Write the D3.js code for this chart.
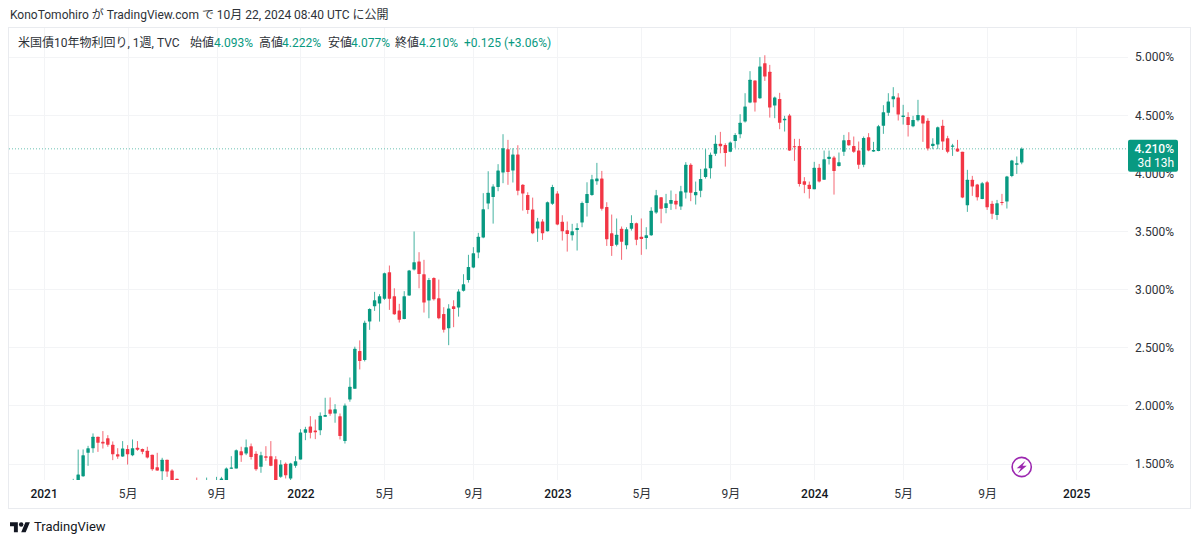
<!DOCTYPE html>
<html lang="ja">
<head>
<meta charset="utf-8">
<title>米国債10年物利回り</title>
<script src="https://cdn.jsdelivr.net/npm/d3@7"></script>
<style>
  html, body { margin: 0; padding: 0; background: #fff; }
  svg { display: block; }
  text { font-family: Roboto, "Noto Sans CJK JP", sans-serif; }
</style>
</head>
<body>
<svg id="chart" width="1200" height="544"></svg>
<script>
// Weekly candles of the US 10-year yield, one value per week from the first date.
const firstWeek = "2021-02-15";
const opens = [
  1.30,1.34,1.391,1.592,1.632,1.73,1.687,1.718,1.661,1.58,
  1.56,1.624,1.572,1.635,1.624,1.609,1.575,1.468,1.434,1.532,
  1.44,1.368,1.30,1.25,1.30,1.30,1.28,1.26,1.31,1.30,
  1.33,1.34,1.454,1.457,1.606,1.586,1.649,1.583,1.471,1.563,
  1.563,1.537,1.385,1.497,1.371,1.48,1.534,1.764,1.819,1.784,
  1.787,1.902,1.966,1.931,1.908,1.693,2.052,2.144,2.468,2.391,
  2.722,2.854,2.877,2.918,3.147,2.941,2.817,2.745,2.946,3.17,
  3.239,3.13,2.903,3.098,2.923,2.788,2.665,2.854,2.843,2.987,
  3.081,3.187,3.317,3.446,3.739,3.796,3.882,4.006,4.207,4.023,
  4.161,3.9,3.813,3.687,3.523,3.584,3.5,3.736,3.825,3.581,
  3.509,3.466,3.512,3.575,3.744,3.813,3.931,3.954,3.71,3.483,
  3.383,3.521,3.38,3.521,3.569,3.452,3.443,3.466,3.661,3.793,
  3.701,3.736,3.762,3.713,3.833,4.072,3.81,3.848,3.968,4.043,
  4.167,4.253,4.244,4.184,4.278,4.336,4.445,4.609,4.798,4.646,
  4.947,4.873,4.583,4.64,4.456,4.497,4.233,4.235,3.931,3.9,
  3.862,4.046,3.943,4.123,4.135,4.063,4.184,4.287,4.235,4.195,
  4.072,4.31,4.187,4.192,4.408,4.52,4.637,4.652,4.485,4.485,
  4.405,4.456,4.497,4.451,4.235,4.247,4.408,4.301,4.23,4.212,
  4.184,3.724,3.943,3.902,3.779,3.922,3.736,3.641,3.753,3.756,
  3.977,4.072,4.093
];
const highs = [
  1.368,1.62,1.621,1.652,1.759,1.73,1.779,1.744,1.69,1.632,
  1.693,1.658,1.707,1.693,1.629,1.644,1.575,1.592,1.549,1.532,
  1.451,1.368,1.34,1.33,1.34,1.379,1.35,1.379,1.35,1.385,
  1.385,1.466,1.563,1.621,1.644,1.707,1.672,1.606,1.601,1.649,
  1.693,1.563,1.529,1.509,1.506,1.563,1.796,1.816,1.908,1.879,
  1.94,2.066,2.069,2.011,1.931,2.017,2.241,2.506,2.56,2.73,
  2.837,2.978,2.958,3.144,3.205,3.009,2.875,2.984,3.167,3.498,
  3.32,3.254,3.098,3.104,3.084,2.846,2.872,2.906,3.001,3.13,
  3.297,3.363,3.486,3.828,4.017,3.905,4.078,4.336,4.287,4.215,
  4.241,3.905,3.836,3.79,3.615,3.604,3.756,3.9,3.845,3.638,
  3.584,3.564,3.569,3.756,3.922,3.986,4.089,4.02,3.75,3.644,
  3.61,3.541,3.535,3.638,3.575,3.61,3.535,3.707,3.856,3.793,
  3.822,3.851,3.822,3.891,4.095,4.086,3.928,4.037,4.207,4.178,
  4.327,4.356,4.258,4.273,4.345,4.508,4.689,4.879,4.798,4.999,
  5.016,4.933,4.66,4.692,4.494,4.511,4.296,4.296,3.966,3.928,
  4.098,4.08,4.195,4.195,4.149,4.178,4.33,4.353,4.316,4.273,
  4.316,4.345,4.27,4.416,4.586,4.689,4.741,4.689,4.589,4.525,
  4.494,4.632,4.502,4.474,4.301,4.402,4.46,4.322,4.253,4.287,
  4.184,4.029,3.977,3.908,3.925,3.934,3.762,3.77,3.822,3.977,
  4.115,4.144,4.222
];
const lows = [
  1.28,1.33,1.385,1.48,1.592,1.60,1.629,1.644,1.529,1.54,
  1.557,1.491,1.563,1.609,1.58,1.543,1.437,1.437,1.34,1.385,
  1.33,1.28,1.24,1.19,1.22,1.26,1.25,1.25,1.27,1.28,
  1.30,1.32,1.454,1.457,1.514,1.572,1.534,1.437,1.42,1.523,
  1.477,1.33,1.376,1.371,1.356,1.463,1.534,1.701,1.716,1.71,
  1.744,1.902,1.911,1.851,1.707,1.672,2.032,2.144,2.31,2.379,
  2.651,2.814,2.722,2.909,2.823,2.78,2.714,2.742,2.943,3.162,
  3.009,2.8,2.751,2.903,2.742,2.628,2.519,2.674,2.765,2.981,
  3.058,3.182,3.268,3.44,3.69,3.566,3.845,3.914,3.9,3.92,
  3.81,3.678,3.65,3.475,3.409,3.426,3.498,3.727,3.552,3.42,
  3.325,3.42,3.334,3.535,3.627,3.805,3.9,3.678,3.374,3.288,
  3.37,3.254,3.345,3.506,3.38,3.297,3.345,3.46,3.65,3.569,
  3.655,3.684,3.69,3.684,3.782,3.759,3.73,3.793,3.954,3.954,
  4.149,4.172,4.057,4.181,4.218,4.301,4.436,4.603,4.531,4.64,
  4.795,4.479,4.474,4.379,4.359,4.192,4.106,3.885,3.828,3.782,
  3.862,3.92,3.943,4.075,3.816,4.057,4.149,4.235,4.175,4.037,
  4.052,4.189,4.184,4.189,4.339,4.494,4.568,4.454,4.419,4.316,
  4.396,4.445,4.27,4.195,4.207,4.207,4.2,4.172,4.149,4.184,
  3.785,3.667,3.805,3.765,3.776,3.684,3.604,3.598,3.724,3.696,
  3.966,3.994,4.077
];
const closes = [
  1.34,1.405,1.572,1.632,1.73,1.678,1.672,1.661,1.58,1.56,
  1.629,1.58,1.632,1.618,1.601,1.552,1.451,1.44,1.532,1.431,
  1.34,1.30,1.28,1.30,1.27,1.28,1.31,1.30,1.29,1.33,
  1.371,1.457,1.466,1.615,1.572,1.641,1.557,1.451,1.572,1.549,
  1.48,1.34,1.491,1.399,1.5,1.52,1.767,1.796,1.764,1.77,
  1.911,1.917,1.928,1.968,1.736,2.0,2.161,2.489,2.382,2.713,
  2.83,2.906,2.94,3.139,2.918,2.786,2.737,2.941,3.162,3.233,
  3.133,2.886,3.081,2.915,2.751,2.651,2.834,2.831,2.981,3.044,
  3.193,3.311,3.452,3.69,3.831,3.885,4.023,4.215,4.011,4.161,
  3.848,3.825,3.684,3.483,3.584,3.483,3.75,3.882,3.558,3.5,
  3.477,3.5,3.529,3.744,3.822,3.948,3.954,3.693,3.432,3.374,
  3.469,3.409,3.518,3.572,3.426,3.434,3.466,3.676,3.811,3.693,
  3.742,3.77,3.73,3.845,4.072,3.831,3.839,3.951,4.04,4.158,
  4.253,4.233,4.175,4.264,4.33,4.434,4.574,4.804,4.609,4.919,
  4.833,4.566,4.652,4.434,4.468,4.195,4.227,3.908,3.9,3.865,
  4.046,3.928,4.121,4.141,4.02,4.095,4.284,4.241,4.184,4.072,
  4.304,4.195,4.201,4.405,4.525,4.617,4.663,4.505,4.497,4.416,
  4.459,4.502,4.428,4.212,4.253,4.396,4.273,4.184,4.238,4.187,
  3.79,3.943,3.885,3.793,3.914,3.707,3.65,3.742,3.744,3.971,
  4.109,4.085,4.21
];

const priceTicks = [1.5, 2, 2.5, 3, 3.5, 4, 4.5, 5];
const timeTicks = ["2021-01-04","2021-05-03","2021-09-06","2022-01-03","2022-05-02","2022-09-05",
                   "2023-01-02","2023-05-01","2023-09-04","2024-01-01","2024-05-06","2024-09-02","2025-01-06"];
const timeLabels = ["2021","5月","9月","2022","5月","9月","2023","5月","9月","2024","5月","9月","2025"];

const lastPrice = 4.21;
const barCountdown = "3d 13h";
const headerText = "KonoTomohiro が TradingView.com で 10月 22, 2024 08:40 UTC に公開";
const legendTitle = "米国債10年物利回り, 1週, TVC";
const legendFields = ["始値", "高値", "安値", "終値"];
const legendValues = ["4.093%", "4.222%", "4.077%", "4.210%"];
const legendChange = "+0.125 (+3.06%)";

const UP = "#089981", DOWN = "#f23645", GRID = "#f3f4f6", BORDER = "#e9ebef", INK = "#2e3238";

const svg = d3.select("#chart");
const parse = d3.utcParse("%Y-%m-%d");

const frame = { left: 8, right: 1190, top: 27, bottom: 508 };
const plot = { right: 1128, bottom: 480 };

const x = d3.scaleUtc()
  .domain([parse("2021-01-04"), parse("2025-01-06")])
  .range([43.6, 1076.06]);
const y = d3.scaleLinear().domain([1.5, 5]).range([463.5, 57.1]);

const start = parse(firstWeek);
const candles = opens.map((o, i) => ({
  date: d3.utcWeek.offset(start, i), o, h: highs[i], l: lows[i], c: closes[i]
}));

// Outer frame and clip of the plotting pane
svg.append("rect")
  .attr("x", frame.left + 0.5).attr("y", frame.top + 0.5)
  .attr("width", frame.right - frame.left).attr("height", frame.bottom - frame.top)
  .attr("fill", "#fff").attr("stroke", BORDER);
svg.append("clipPath").attr("id", "pane").append("rect")
  .attr("x", frame.left).attr("y", frame.top)
  .attr("width", plot.right - frame.left).attr("height", plot.bottom - frame.top);

// Grid
const grid = svg.append("g").attr("stroke", GRID).attr("stroke-width", 1);
grid.selectAll(".h").data(priceTicks).join("line").attr("class", "h")
  .attr("x1", frame.left + 1).attr("x2", plot.right)
  .attr("y1", d => Math.round(y(d)) + 0.5).attr("y2", d => Math.round(y(d)) + 0.5);
grid.selectAll(".v").data(timeTicks).join("line").attr("class", "v")
  .attr("y1", frame.top + 1).attr("y2", plot.bottom)
  .attr("x1", d => Math.round(x(parse(d))) + 0.5).attr("x2", d => Math.round(x(parse(d))) + 0.5);

// Last-price line
svg.append("line")
  .attr("x1", frame.left + 1).attr("x2", plot.right)
  .attr("y1", y(lastPrice)).attr("y2", y(lastPrice))
  .attr("stroke", UP).attr("stroke-opacity", 0.6).attr("stroke-dasharray", "1 2");

// Candles
const bars = svg.append("g").attr("clip-path", "url(#pane)")
  .selectAll("g").data(candles).join("g")
  .attr("fill", d => d.c >= d.o ? UP : DOWN)
  .attr("stroke", d => d.c >= d.o ? UP : DOWN);
bars.append("line")
  .attr("x1", d => x(d.date)).attr("x2", d => x(d.date))
  .attr("y1", d => y(d.h)).attr("y2", d => y(d.l))
  .attr("stroke-width", 1).attr("stroke-opacity", 0.75);
const bodyWidth = 3.4;
bars.append("rect")
  .attr("x", d => x(d.date) - bodyWidth / 2).attr("width", bodyWidth)
  .attr("y", d => y(Math.max(d.o, d.c)))
  .attr("height", d => Math.max(1.2, Math.abs(y(d.o) - y(d.c))))
  .attr("stroke", "none").attr("rx", 0.5);

// Price axis
const yAxis = svg.append("g").attr("transform", "translate(1174,0)")
  .call(d3.axisLeft(y).tickValues(priceTicks).tickSize(0).tickPadding(0).tickFormat(d => d3.format(".3f")(d) + "%"));
yAxis.select(".domain").remove();
yAxis.selectAll("text").attr("fill", INK).style("font-size", "12px");

// Time axis
const tickDates = timeTicks.map(parse);
const xAxis = svg.append("g").attr("transform", `translate(0,${plot.bottom})`)
  .call(d3.axisBottom(x).tickValues(tickDates).tickSize(0).tickPadding(9)
    .tickFormat((d, i) => timeLabels[i]));
xAxis.select(".domain").remove();
xAxis.selectAll("text")
  .attr("fill", (d, i) => /^\d+$/.test(timeLabels[i]) ? "#131722" : INK)
  .style("font-size", "12px")
  .style("font-weight", (d, i) => /^\d+$/.test(timeLabels[i]) ? 500 : 400);

// Last-price tag
const tagY = y(lastPrice);
svg.append("rect").attr("x", 1128).attr("y", tagY - 9).attr("width", 50).attr("height", 32)
  .attr("rx", 2).attr("fill", UP);
svg.append("text").attr("x", 1174).attr("y", tagY + 4).attr("text-anchor", "end")
  .attr("fill", "#fff").style("font-size", "12px").style("font-weight", 500)
  .text(d3.format(".3f")(lastPrice) + "%");
svg.append("text").attr("x", 1174).attr("y", tagY + 18).attr("text-anchor", "end")
  .attr("fill", "#fff").style("font-size", "12px").text(barCountdown);

// Header line above the chart
svg.append("text").attr("x", 10).attr("y", 19).attr("fill", INK)
  .style("font-size", "12px").text(headerText);

// Legend inside the pane
const legendY = 47;
svg.append("text").attr("x", 18).attr("y", legendY).attr("fill", INK)
  .style("font-size", "12px").text(legendTitle);
const fieldX = [190, 259, 328, 395];
const valueX = [214, 282, 351, 419];
legendFields.forEach((name, i) => {
  svg.append("text").attr("x", fieldX[i]).attr("y", legendY).attr("fill", INK)
    .style("font-size", "12px").text(name);
  svg.append("text").attr("x", valueX[i]).attr("y", legendY).attr("fill", UP)
    .style("font-size", "12px").text(legendValues[i]);
});
svg.append("text").attr("x", 464).attr("y", legendY).attr("fill", UP)
  .style("font-size", "12px").text(legendChange);

// Lightning badge for upcoming events
const badgeX = x(candles[candles.length - 1].date);
const badge = svg.append("g").attr("transform", `translate(${badgeX},467)`);
badge.append("circle").attr("r", 9.6).attr("fill", "#fff").attr("stroke", "#9c27b0").attr("stroke-width", 1.6);
badge.append("path").attr("d", "M3.8,-6.2 L-5,1.2 L-0.8,1.2 L-3.8,6.2 L5,-1.2 L0.8,-1.2 Z").attr("fill", "#9c27b0");

// TradingView wordmark
const logo = svg.append("g").attr("transform", "translate(10,520) scale(0.56)").attr("fill", "#131722");
logo.append("path").attr("d", "M14 22H7V11H0V4h14v18zM28 22h-8l7.5-18h8L28 22z");
logo.append("circle").attr("cx", 20).attr("cy", 8).attr("r", 4);
svg.append("text").attr("x", 34).attr("y", 531).attr("fill", "#131722")
  .style("font-size", "13px").text("TradingView");
</script>
</body>
</html>
